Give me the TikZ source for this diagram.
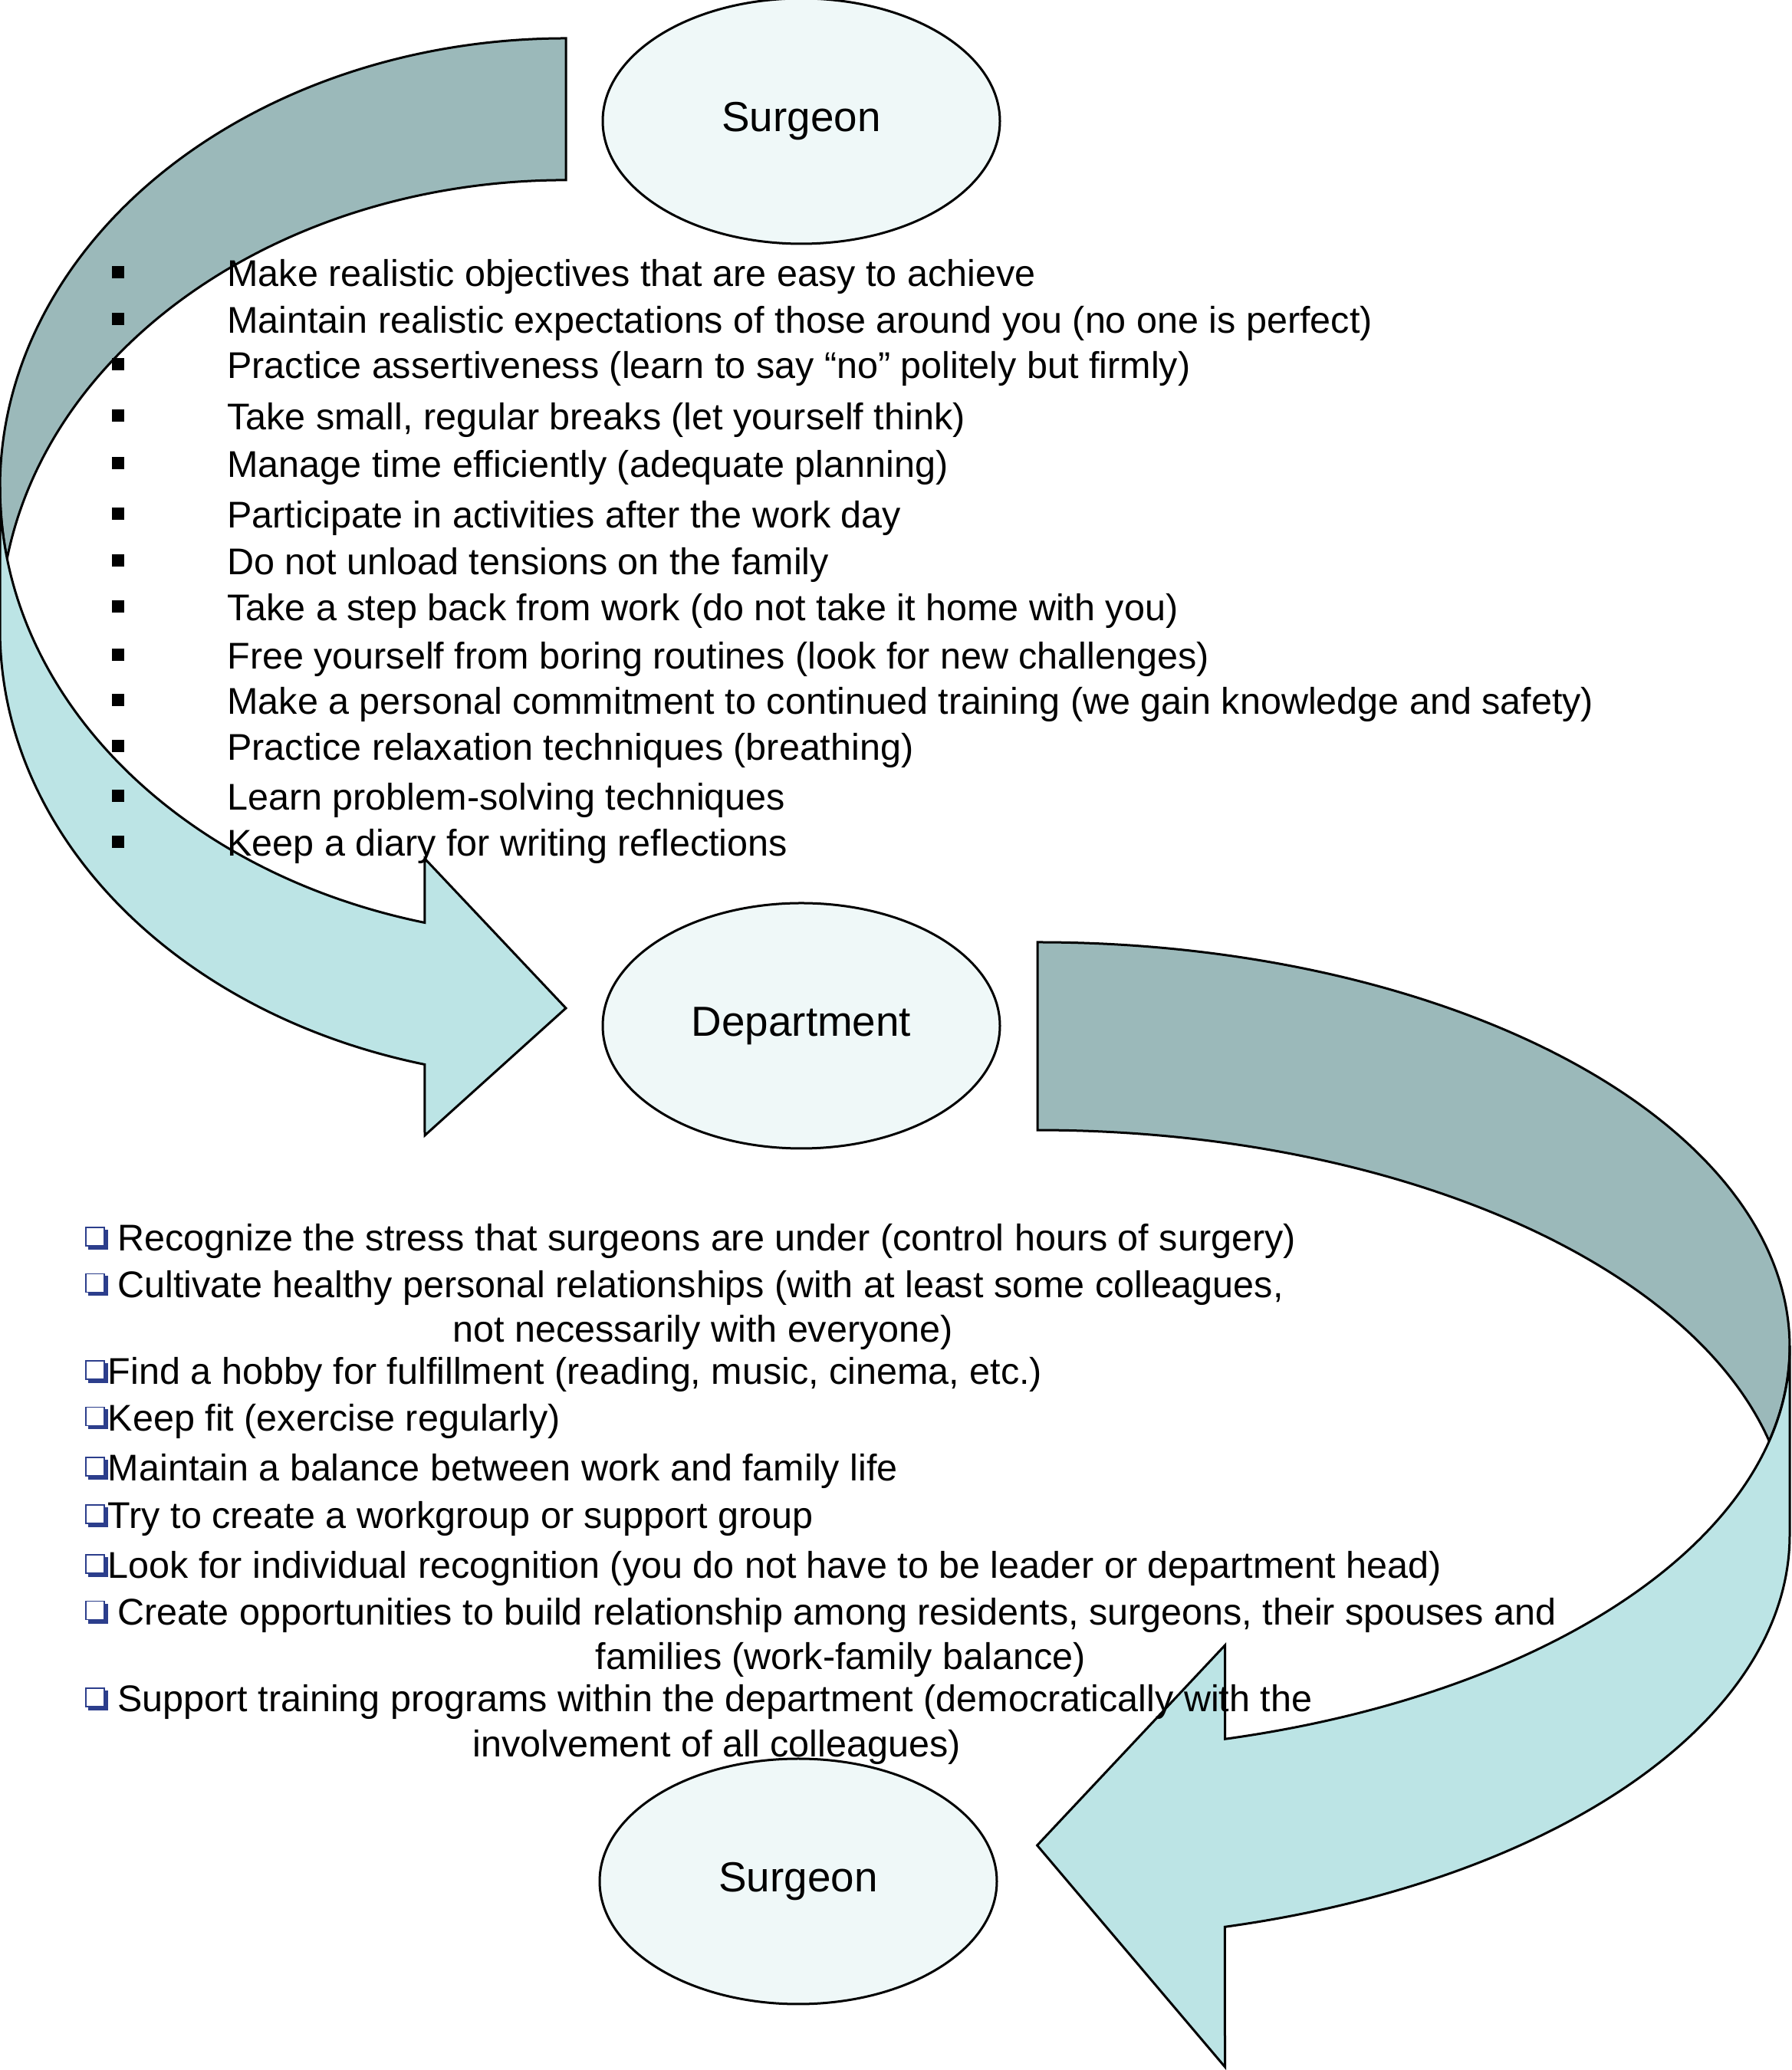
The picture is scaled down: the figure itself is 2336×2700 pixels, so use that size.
\documentclass[tikz,border=0pt]{standalone}
\usepackage{fontspec}
\setmainfont{Liberation Sans}
\usetikzlibrary{shapes.geometric}
\definecolor{darkband}{RGB}{155,185,186}
\definecolor{lightband}{RGB}{188,228,229}
\definecolor{ellfill}{RGB}{239,248,248}
\definecolor{chkblue}{RGB}{44,62,140}
\begin{document}
\begin{tikzpicture}[x=0.5pt,y=0.5pt,
  band/.style={draw=black, line width=1.5pt, line join=miter},
  ell/.style={ellipse, draw=black, line width=1.5pt, fill=ellfill, minimum width=259pt, minimum height=160pt, inner sep=0pt, font=\fontsize{27.4}{32}\selectfont},
  item/.style={anchor=base west, inner sep=0pt, font=\fontsize{24.25}{29}\selectfont},
  sqb/.style={rectangle, fill=black, minimum size=8pt, inner sep=0pt},
  chkf/.style={rectangle, draw=chkblue, line width=0.8pt, fill=white, minimum size=12pt, inner sep=0pt},
  chks/.style={rectangle, fill=chkblue, minimum size=13pt, inner sep=0pt},
  lell/.style={x radius=369pt, y radius=293pt},
  rell/.style={x radius=490.5pt, y radius=264pt}
]
\fill[white] (0,0) rectangle (2336,2700);
\useasboundingbox (0,0) rectangle (2336,2700);

% left curved arrow (surgeon -> department)
\path[band, fill=darkband] (738,2650) arc[start angle=90, end angle=189.08, lell]
  arc[start angle=170.92, end angle=90, lell] -- cycle;
\path[band, fill=lightband] (0,2064) -- (0,1879) arc[start angle=180, end angle=255.55, lell]
  -- (554,1219) -- (738,1385) -- (554,1580) -- (553.9,1496.5)
  arc[start angle=255.55, end angle=180, lell] -- cycle;

% right curved arrow (department -> surgeon)
\path[band, fill=darkband] (1353,1471) arc[start angle=90, end angle=-13.42, rell]
  arc[start angle=13.42, end angle=90, rell] -- cycle;
\path[band, fill=lightband] (2334,943) -- (2334,698) arc[start angle=0, end angle=-75.57, rell]
  -- (1597.5,4) -- (1352.6,293) -- (1597.5,554) -- (1597.5,431.7)
  arc[start angle=-75.57, end angle=0, rell] -- cycle;

% ellipses
\node[ell] (surg1) at (1045,2542) {Surgeon};
\node[ell] (dept) at (1045,1362) {Department};
\node[ell] (surg2) at (1041,246) {Surgeon};

% top list
\node[sqb] (s1) at (154,2345) {};
\node[item] (t1) at (296,2326.5) {Make realistic objectives that are easy to achieve};
\node[sqb] (s2) at (154,2283.8) {};
\node[item] (t2) at (296,2265.3) {Maintain realistic expectations of those around you (no one is perfect)};
\node[sqb] (s3) at (154,2224.5) {};
\node[item] (t3) at (296,2206) {Practice assertiveness (learn to say “no” politely but firmly)};
\node[sqb] (s4) at (154,2157.5) {};
\node[item] (t4) at (296,2139) {Take small, regular breaks (let yourself think)};
\node[sqb] (s5) at (154,2096.1) {};
\node[item] (t5) at (296,2077.6) {Manage time efficiently (adequate planning)};
\node[sqb] (s6) at (154,2029.7) {};
\node[item] (t6) at (296,2011.2) {Participate in activities after the work day};
\node[sqb] (s7) at (154,1969.2) {};
\node[item] (t7) at (296,1950.7) {Do not unload tensions on the family};
\node[sqb] (s8) at (154,1908.8) {};
\node[item] (t8) at (296,1890.3) {Take a step back from work (do not take it home with you)};
\node[sqb] (s9) at (154,1846.1) {};
\node[item] (t9) at (296,1827.6) {Free yourself from boring routines (look for new challenges)};
\node[sqb] (s10) at (154,1786.5) {};
\node[item] (t10) at (296,1768) {Make a personal commitment to continued training (we gain knowledge and safety)};
\node[sqb] (s11) at (154,1726.7) {};
\node[item] (t11) at (296,1708.2) {Practice relaxation techniques (breathing)};
\node[sqb] (s12) at (154,1661.5) {};
\node[item] (t12) at (296,1643) {Learn problem-solving techniques};
\node[sqb] (s13) at (154,1601.5) {};
\node[item] (t13) at (296,1583) {Keep a diary for writing reflections};

% bottom list
\newcommand{\chkbox}[2]{%
  \node[chks] (#1s) at (128,#2+15) {};
  \node[chkf] (#1) at (124,#2+19) {};}
\chkbox{c1}{1068}
\node[item] (u1) at (153,1068) {Recognize the stress that surgeons are under (control hours of surgery)};
\chkbox{c2}{1007.5}
\node[item] (u2) at (153,1007.5) {Cultivate healthy personal relationships (with at least some colleagues,};
\node[item] (u3) at (590,949) {not necessarily with everyone)};
\chkbox{c4}{894}
\node[item] (u4) at (140.5,894) {Find a hobby for fulfillment (reading, music, cinema, etc.)};
\chkbox{c5}{833.6}
\node[item] (u5) at (140.5,833.6) {Keep fit (exercise regularly)};
\chkbox{c6}{768}
\node[item] (u6) at (140.5,768) {Maintain a balance between work and family life};
\chkbox{c7}{706}
\node[item] (u7) at (140.5,706) {Try to create a workgroup or support group};
\chkbox{c8}{641}
\node[item] (u8) at (140.5,641) {Look for individual recognition (you do not have to be leader or department head)};
\chkbox{c9}{580.4}
\node[item] (u9) at (153,580.4) {Create opportunities to build relationship among residents, surgeons, their spouses and};
\node[item] (u10) at (776.5,522) {families (work-family balance)};
\chkbox{c11}{467}
\node[item] (u11) at (153,467) {Support training programs within the department (democratically with the};
\node[item] (u12) at (616,408) {involvement of all colleagues)};
\end{tikzpicture}
\end{document}
